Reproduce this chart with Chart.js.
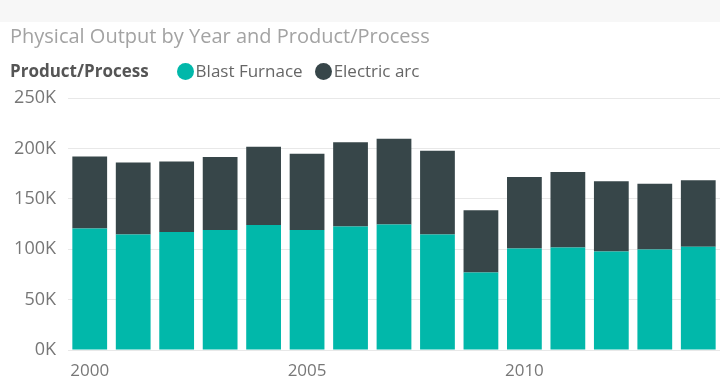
<!DOCTYPE html>
<html>
<head>
<meta charset="utf-8">
<script src="https://cdn.jsdelivr.net/npm/chart.js@4"></script>
<style>
  html, body { margin: 0; padding: 0; background: #ffffff; }
  #wrap { position: relative; width: 720px; height: 382px; overflow: hidden; font-family: "Open Sans", sans-serif; }
  #band { position: absolute; left: 0; top: 0; width: 720px; height: 22px; background: #f7f7f7; }
  #title { position: absolute; left: 10px; top: 23px; font-size: 20px; color: #a3a3a3; line-height: 26px; white-space: nowrap; }
  #legend { position: absolute; left: 10px; top: 60px; font-size: 17px; line-height: 22px; color: #666; white-space: nowrap; display: flex; align-items: center; }
  #legend .lt { font-weight: bold; color: #555; margin-right: 28px; }
  #legend .item { display: flex; align-items: center; margin-right: 12px; }
  #legend .dot { width: 17px; height: 17px; border-radius: 50%; margin-right: 2px; }
  #c { position: absolute; left: 0; top: 0; }
</style>
</head>
<body>
<div id="wrap">
  <div id="band"></div>
  <canvas id="c" width="720" height="382"></canvas>
  <div id="title">Physical Output by Year and Product/Process</div>
  <div id="legend"></div>
</div>
<script>
const legendTitle = "Product/Process";
const years = ["2000","2001","2002","2003","2004","2005","2006","2007","2008","2009","2010","2011","2012","2013","2014"];
const blastFurnace = [120500, 114600, 117000, 119000, 124000, 119000, 122500, 124500, 114600, 77000, 100800, 101800, 97800, 99800, 102500];
const electricArc  = [71500, 71400, 70000, 72500, 77600, 75800, 83500, 85000, 83100, 61600, 70900, 74900, 69700, 65200, 66000];
const seriesNames = ["Blast Furnace", "Electric arc"];
const seriesColors = ["#01B8AA", "#374649"];
const yTicks = [0, 50000, 100000, 150000, 200000, 250000];

// HTML legend built from the series
const lg = document.getElementById('legend');
const t = document.createElement('span'); t.className = 'lt'; t.textContent = legendTitle; lg.appendChild(t);
seriesNames.forEach((n, i) => {
  const it = document.createElement('span'); it.className = 'item';
  const d = document.createElement('span'); d.className = 'dot'; d.style.background = seriesColors[i];
  const s = document.createElement('span'); s.textContent = n;
  it.appendChild(d); it.appendChild(s); lg.appendChild(it);
});

new Chart(document.getElementById('c'), {
  type: 'bar',
  data: {
    labels: years,
    datasets: [
      { label: seriesNames[0], data: blastFurnace, backgroundColor: seriesColors[0], categoryPercentage: 1, barPercentage: 0.8 },
      { label: seriesNames[1], data: electricArc, backgroundColor: seriesColors[1], categoryPercentage: 1, barPercentage: 0.8 }
    ]
  },
  options: {
    responsive: false,
    animation: false,
    layout: { padding: { top: 98, left: 0, right: 0, bottom: 0 } },
    plugins: { legend: { display: false }, title: { display: false }, tooltip: { enabled: false } },
    scales: {
      x: {
        stacked: true,
        grid: { display: false, drawTicks: false },
        border: { display: false },
        afterFit: (s) => { s.height = 32; },
        ticks: {
          autoSkip: false, maxRotation: 0, minRotation: 0,
          color: '#777', font: { family: 'Open Sans', size: 17 }, padding: 11,
          callback: function(v, i) { const y = years[i]; return (parseInt(y) % 5 === 0) ? y : ''; }
        }
      },
      y: {
        stacked: true,
        min: 0, max: 250000,
        afterBuildTicks: (s) => { s.ticks = yTicks.map(v => ({ value: v })); },
        afterFit: (s) => { s.width = 68; },
        grid: { color: '#e8e8e8', drawTicks: false, lineWidth: 1 },
        border: { display: false },
        ticks: {
          color: '#777', font: { family: 'Open Sans', size: 18 }, padding: 12,
          callback: (v) => (v / 1000) + 'K'
        }
      }
    }
  }
});
</script>
</body>
</html>
